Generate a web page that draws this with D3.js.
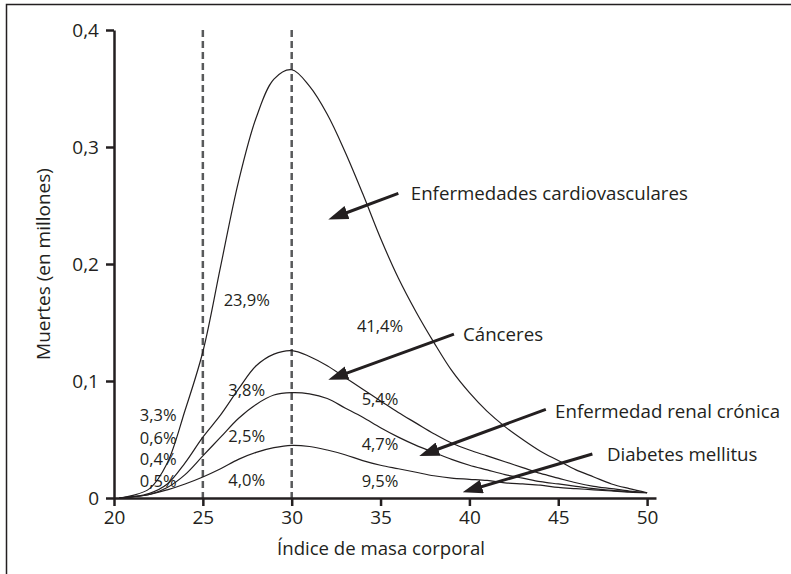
<!DOCTYPE html>
<html>
<head>
<meta charset="utf-8">
<script src="https://cdn.jsdelivr.net/npm/d3@7"></script>
<style>
  body { margin: 0; background: #fff; }
  text { font-family: "Open Sans", sans-serif; fill: #231f20; }
  .axis path, .axis line { stroke: #231f20; stroke-width: 2.5; }
  .curve { fill: none; stroke: #231f20; stroke-width: 1.2; }
</style>
</head>
<body>
<div id="chart"></div>
<script>
// BMI sample points and cumulative curves (millions of deaths)
const bmi = [20.3, 21, 22, 23, 24, 25, 26, 27, 28, 29, 30, 31, 32, 33, 34, 35,
  36, 37, 38, 39, 40, 41, 42, 43, 44, 45, 46, 47, 48, 49, 50];
const cardio = [0, 0.002, 0.008, 0.03, 0.075, 0.125, 0.198, 0.27, 0.325, 0.358, 0.366,
  0.352, 0.328, 0.296, 0.26, 0.222, 0.188, 0.159, 0.133, 0.109, 0.09, 0.074, 0.061,
  0.05, 0.04, 0.032, 0.024, 0.018, 0.012, 0.008, 0.0045];
const cancer = [0, 0.001, 0.004, 0.012, 0.03, 0.052, 0.071, 0.093, 0.113, 0.123, 0.126,
  0.121, 0.113, 0.103, 0.093, 0.083, 0.073, 0.064, 0.055, 0.047, 0.041, 0.036, 0.031,
  0.026, 0.021, 0.017, 0.013, 0.01, 0.008, 0.006, 0.0045];
const renal = [0, 0.001, 0.003, 0.009, 0.02, 0.036, 0.052, 0.068, 0.08, 0.088, 0.09,
  0.089, 0.085, 0.077, 0.069, 0.06, 0.052, 0.045, 0.039, 0.033, 0.028, 0.024, 0.02,
  0.017, 0.014, 0.012, 0.01, 0.008, 0.0065, 0.0055, 0.0045];
const diabetes = [0, 0.001, 0.003, 0.007, 0.012, 0.018, 0.025, 0.033, 0.039, 0.043, 0.045,
  0.044, 0.041, 0.037, 0.032, 0.028, 0.025, 0.022, 0.019, 0.017, 0.016, 0.015, 0.013,
  0.012, 0.011, 0.009, 0.008, 0.007, 0.006, 0.005, 0.0045];

const xTicks = [20, 25, 30, 35, 40, 45, 50];
const yTicks = [0, 0.1, 0.2, 0.3, 0.4];
const yTickLabels = ["0", "0,1", "0,2", "0,3", "0,4"];
const refLines = [25, 30];

// percentage labels: [text, bmi, value]
const pctLabels = [
  ["23,9%", 27.47, 0.169], ["3,3%", 22.49, 0.0705], ["0,6%", 22.49, 0.0512],
  ["0,4%", 22.49, 0.0328], ["0,5%", 22.49, 0.0146], ["3,8%", 27.47, 0.0917],
  ["2,5%", 27.47, 0.0524], ["4,0%", 27.47, 0.0148], ["41,4%", 34.97, 0.1464],
  ["5,4%", 34.97, 0.0846], ["4,7%", 34.97, 0.0459], ["9,5%", 34.97, 0.014]
];
// arrows: label, from [bmi, value], to [bmi, value]
const arrowLabels = ["Enfermedades cardiovasculares", "Cánceres", "Enfermedad renal crónica", "Diabetes mellitus"];
const arrowFrom = [[36.0, 0.2604], [39.13, 0.140], [44.3, 0.0758], [46.92, 0.0376]];
const arrowTo = [[32.06, 0.238], [32.06, 0.101], [37.18, 0.0359], [39.62, 0.0049]];
const labelAt = [[36.7, 0.2607], [39.64, 0.1397], [44.82, 0.0737], [47.74, 0.0368]];

const width = 791, height = 574;

const x = d3.scaleLinear().domain([20, 50.5]).range([114, 114 + 30.5 * 17.77]);
const y = d3.scaleLinear().domain([0, 0.4]).range([498, 30]);

const svg = d3.select("#chart").append("svg").attr("width", width).attr("height", height);

// frame
svg.append("rect")
  .attr("x", 6.5).attr("y", 4.5).attr("width", 900).attr("height", 700)
  .attr("fill", "none").attr("stroke", "#231f20").attr("stroke-width", 1.5);

svg.append("defs").append("marker")
  .attr("id", "head")
  .attr("viewBox", "0 0 20 14")
  .attr("refX", 20).attr("refY", 7)
  .attr("markerWidth", 20).attr("markerHeight", 14)
  .attr("markerUnits", "userSpaceOnUse")
  .attr("orient", "auto")
  .append("path").attr("d", "M0,0 L20,7 L0,14 Z").attr("fill", "#231f20");

// dashed reference lines
svg.selectAll(".ref").data(refLines).join("line")
  .attr("class", "ref")
  .attr("x1", d => x(d)).attr("x2", d => x(d))
  .attr("y1", y(0.4)).attr("y2", y(0))
  .attr("stroke", "#58595b").attr("stroke-width", 2.5).attr("stroke-dasharray", "7,4");

// curves
const line = d3.line().x(d => x(d[0])).y(d => y(d[1])).curve(d3.curveCatmullRom.alpha(0.5));
[cardio, cancer, renal, diabetes].forEach(series => {
  svg.append("path").attr("class", "curve")
    .attr("d", line(bmi.map((b, i) => [b, series[i]])));
});

// axes
svg.append("g").attr("class", "axis")
  .attr("transform", `translate(0,${y(0)})`)
  .call(d3.axisBottom(x).tickValues(xTicks).tickSize(8).tickSizeOuter(0).tickPadding(5))
  .call(g => g.selectAll("text").attr("font-size", 19).attr("fill", "#231f20"));

svg.append("g").attr("class", "axis")
  .attr("transform", `translate(${x(20)},0)`)
  .call(d3.axisLeft(y).tickValues(yTicks)
    .tickFormat((d, i) => yTickLabels[i]).tickSize(8).tickSizeOuter(0).tickPadding(7))
  .call(g => g.selectAll("text").attr("font-size", 19).attr("fill", "#231f20"));

// axis titles
svg.append("text")
  .attr("x", 381).attr("y", 555)
  .attr("text-anchor", "middle").attr("font-size", 18.6)
  .text("Índice de masa corporal");

svg.append("text")
  .attr("transform", `translate(50,${y(0.2)}) rotate(-90)`)
  .attr("text-anchor", "middle").attr("font-size", 19)
  .text("Muertes (en millones)");

// percentages
svg.selectAll(".pct").data(pctLabels).join("text")
  .attr("class", "pct")
  .attr("x", d => x(d[1])).attr("y", d => y(d[2]))
  .attr("dy", "0.35em").attr("text-anchor", "middle").attr("font-size", 16.5)
  .text(d => d[0]);

// arrows
arrowLabels.forEach((lab, i) => {
  const x1 = x(arrowFrom[i][0]), y1 = y(arrowFrom[i][1]);
  const x2 = x(arrowTo[i][0]), y2 = y(arrowTo[i][1]);
  const len = Math.hypot(x2 - x1, y2 - y1);
  const k = (len - 8) / len;
  svg.append("line")
    .attr("x1", x1).attr("y1", y1)
    .attr("x2", x1 + (x2 - x1) * k).attr("y2", y1 + (y2 - y1) * k)
    .attr("stroke", "#231f20").attr("stroke-width", 3);
  svg.append("path")
    .attr("d", `M${x1},${y1}L${x2},${y2}`)
    .attr("stroke", "none").attr("fill", "none")
    .attr("marker-end", "url(#head)");
  svg.append("text")
    .attr("x", x(labelAt[i][0])).attr("y", y(labelAt[i][1]))
    .attr("dy", "0.35em").attr("font-size", 18.7)
    .text(lab);
});
</script>
</body>
</html>
